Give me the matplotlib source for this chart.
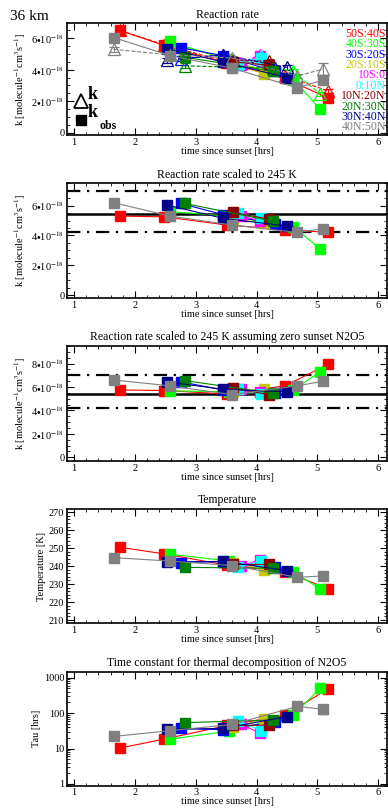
import numpy as np
import matplotlib
matplotlib.use("Agg")
import matplotlib.pyplot as plt
from matplotlib.ticker import FuncFormatter, MultipleLocator, LogLocator, NullFormatter

plt.rcParams['font.family'] = ['Liberation Serif', 'DejaVu Serif']
plt.rcParams['mathtext.fontset'] = 'stix'

# latitude bands and their colours
bands = ['50S:40S', '40S:30S', '30S:20S', '20S:10S', '10S:0',
         '0:10N', '10N:20N', '20N:30N', '30N:40N', '40N:50N']
colors = ['#ff0000', '#00ff00', '#0000ff', '#c8c800', '#ff00ff',
          '#00ffff', '#8b0000', '#008000', '#00008b', '#808080']

# time since sunset [hrs], one list per band
t_hrs = [[1.75, 2.48, 3.52, 4.47, 5.18],
         [2.57, 3.55, 4.60, 5.05],
         [2.75, 3.45, 4.30],
         [3.62, 4.12],
         [3.75, 4.05],
         [3.70, 4.08],
         [3.62, 4.20],
         [2.82, 4.27],
         [2.52, 3.45, 4.50],
         [1.65, 2.58, 3.60, 4.67, 5.10]]

# reaction rate k (triangles) [1e-18 molecule-1 cm3 s-1]
k_fit = [[6.5, 5.6, 4.5, 3.6, 2.65],
         [5.7, 4.7, 3.9, 2.45],
         [4.7, 4.95, 4.1],
         [4.5, 4.0],
         [4.4, 4.95],
         [4.4, 4.85],
         [4.6, 4.55],
         [4.25, 4.1],
         [4.6, 4.95, 4.15],
         [5.3, 4.95, 4.75, 3.6, 4.05]]

# observed reaction rate k_obs (squares)
k_obs = [[6.5, 5.55, 4.4, 3.45, 2.2],
         [5.8, 4.6, 3.4, 1.5],
         [5.4, 4.9, 3.9],
         [4.4, 3.75],
         [4.3, 4.9],
         [4.3, 4.75],
         [4.5, 4.3],
         [4.8, 3.9],
         [5.35, 4.5, 3.5],
         [6.05, 4.9, 4.1, 2.85, 3.35]]

# scaled to 245 K
k_245 = [[5.3, 5.25, 4.7, 4.4, 4.2],
         [5.6, 5.3, 4.6, 3.1],
         [6.15, 5.4, 4.8],
         [5.1, 4.85],
         [5.3, 5.0],
         [5.5, 5.2],
         [5.55, 5.1],
         [6.15, 4.95],
         [6.05, 5.15, 4.63],
         [6.2, 5.3, 4.7, 4.2, 4.45]]

# scaled to 245 K, zero sunset N2O5
k_zero = [[5.75, 5.7, 5.4, 6.1, 7.95],
          [5.67, 5.6, 5.75, 7.3],
          [6.45, 5.75, 5.5],
          [5.6, 5.8],
          [5.8, 5.6],
          [5.85, 5.4],
          [5.9, 5.35],
          [6.55, 5.47],
          [6.45, 5.8, 5.6],
          [6.6, 6.1, 5.35, 6.1, 6.5]]

# temperature [K]
temp = [[250.5, 246.8, 240.5, 236.9, 227.3],
        [246.6, 242.9, 236.9, 227.3],
        [242.0, 242.5, 239.3],
        [242.0, 238.0],
        [240.0, 243.5],
        [239.3, 242.9],
        [241.0, 241.0],
        [239.3, 238.8],
        [242.3, 242.6, 237.5],
        [244.7, 242.8, 240.3, 233.8, 234.5]]

# thermal decomposition time constant [hrs]
tau = [[10.3, 18.5, 45, 88, 490],
       [18.5, 31, 88, 500],
       [37, 34, 57],
       [40, 67],
       [48, 28],
       [61, 32],
       [45, 46],
       [54, 64],
       [35, 37, 80],
       [22, 32, 48, 155, 128]]

# error sizes (last gray point is much less certain)
err_k = 0.15
err_T = 0.8
err_tau = 0.08
gray_last = {'k': 0.4, 'kobs': 0.2, 'T': 1.5, 'tau': 0.25}

# reference lines for scaled panels
k_mean = 5.43
k_hi = 7.0
k_lo = 4.23

fig = plt.figure(figsize=(3.88, 8.09), dpi=100)
boxes = [[0.173, 0.8331, 0.825, 0.1384],
         [0.173, 0.6316, 0.825, 0.1418],
         [0.173, 0.4305, 0.825, 0.1418],
         [0.173, 0.2296, 0.825, 0.1413],
         [0.173, 0.0288, 0.825, 0.1409]]
axs = [fig.add_axes(b) for b in boxes]

MS = 7.2


def kfmt(v, pos):
    if abs(v) < 1e-6:
        return '0'
    return r'%d$\bullet$10$^{-18}$' % round(v)


def style(ax, title, ylabel):
    ax.set_xlim(0.885, 6.15)
    ax.xaxis.set_major_locator(MultipleLocator(1))
    ax.xaxis.set_minor_locator(MultipleLocator(0.2))
    ax.tick_params(which='both', direction='in', top=True, right=True, labelsize=7.5, pad=2)
    ax.tick_params(which='major', length=5, width=0.8)
    ax.tick_params(which='minor', length=2.5, width=0.6)
    for sp in ax.spines.values():
        sp.set_linewidth(1.2)
    ax.set_title(title, fontsize=8.5, pad=4)
    ax.set_xlabel('time since sunset [hrs]', fontsize=7.5, labelpad=0)
    ax.set_ylabel(ylabel, fontsize=7.5, labelpad=2)


def errs(vals, i, size, key, rel=False):
    e = [v * size if rel else size for v in vals]
    if i == 9:
        e[-1] = vals[-1] * gray_last[key] if rel else gray_last[key]
    return e


def squares(ax, t, vals, e, c):
    ax.errorbar(t, vals, yerr=e, color=c, ls='-', lw=0.8,
                marker='s', ms=MS, mfc=c, mec=c, capsize=3.5, elinewidth=0.7)


klabel = r'k [molecule$^{-1}$cm$^{3}$s$^{-1}$]'

# panel 1: reaction rate
ax = axs[0]
for i in range(len(bands)):
    c = colors[i]
    ax.errorbar(t_hrs[i], k_fit[i], yerr=errs(k_fit[i], i, err_k, 'k'), color=c, ls='--', lw=0.8,
                marker='^', ms=8.5, mfc='none', mec=c, mew=0.9, capsize=3.5, elinewidth=0.7)
    squares(ax, t_hrs[i], k_obs[i], errs(k_obs[i], i, err_k, 'kobs'), c)
ax.set_ylim(-0.15, 6.97)
ax.yaxis.set_major_locator(MultipleLocator(2))
ax.yaxis.set_minor_locator(MultipleLocator(0.5))
ax.yaxis.set_major_formatter(FuncFormatter(kfmt))
style(ax, 'Reaction rate', klabel)
for i in range(len(bands)):
    ax.text(0.996, 0.905 - i * 0.093, bands[i], color=colors[i], fontsize=8.6,
            ha='right', va='center', transform=ax.transAxes)
# symbol key
ax.plot([0.042], [0.30], marker='^', ms=10, mfc='none', mec='k', mew=1.3, transform=ax.transAxes)
ax.text(0.064, 0.36, 'k', fontsize=13, fontweight='bold', va='center', transform=ax.transAxes)
ax.plot([0.042], [0.135], marker='s', ms=7.5, mfc='k', mec='k', transform=ax.transAxes)
ax.text(0.064, 0.20, 'k', fontsize=13, fontweight='bold', va='center', transform=ax.transAxes)
ax.text(0.100, 0.085, 'obs', fontsize=8.5, fontweight='bold', va='center', transform=ax.transAxes)

# panel 2 and 3: scaled rates with reference lines
for ax, data, ylim, title in [(axs[1], k_245, (-0.2, 7.5), 'Reaction rate scaled to 245 K'),
                              (axs[2], k_zero, (-0.29, 9.5),
                               'Reaction rate scaled to 245 K assuming zero sunset N2O5')]:
    ax.axhline(k_mean, color='k', lw=1.8, zorder=1)
    ax.axhline(k_hi, color='k', lw=1.6, ls=(0, (6, 3, 1, 3)), zorder=1)
    ax.axhline(k_lo, color='k', lw=1.6, ls=(0, (6, 3, 1, 3)), zorder=1)
    for i in range(len(bands)):
        squares(ax, t_hrs[i], data[i], errs(data[i], i, err_k, 'kobs'), colors[i])
    ax.set_ylim(*ylim)
    ax.yaxis.set_major_locator(MultipleLocator(2))
    ax.yaxis.set_minor_locator(MultipleLocator(0.5))
    ax.yaxis.set_major_formatter(FuncFormatter(kfmt))
    style(ax, title, klabel)

# panel 4: temperature
ax = axs[3]
for i in range(len(bands)):
    squares(ax, t_hrs[i], temp[i], errs(temp[i], i, err_T, 'T'), colors[i])
ax.set_ylim(208.2, 271.8)
ax.yaxis.set_major_locator(MultipleLocator(10))
ax.yaxis.set_minor_locator(MultipleLocator(2))
style(ax, 'Temperature', 'Temperature [K]')

# panel 5: time constant
ax = axs[4]
for i in range(len(bands)):
    squares(ax, t_hrs[i], tau[i], errs(tau[i], i, err_tau, 'tau', rel=True), colors[i])
ax.set_yscale('log')
ax.set_ylim(0.895, 1480)
ax.yaxis.set_major_locator(LogLocator(base=10, numticks=10))
ax.yaxis.set_minor_locator(LogLocator(base=10, subs=np.arange(2, 10), numticks=10))
ax.yaxis.set_major_formatter(FuncFormatter(lambda v, p: '%d' % round(v)))
ax.yaxis.set_minor_formatter(NullFormatter())
style(ax, 'Time constant for thermal decomposition of N2O5', 'Tau [hrs]')

fig.text(0.025, 1 - 16 / 809, '36 km', fontsize=11, va='center', ha='left')

fig.savefig('out.png', dpi=100)
